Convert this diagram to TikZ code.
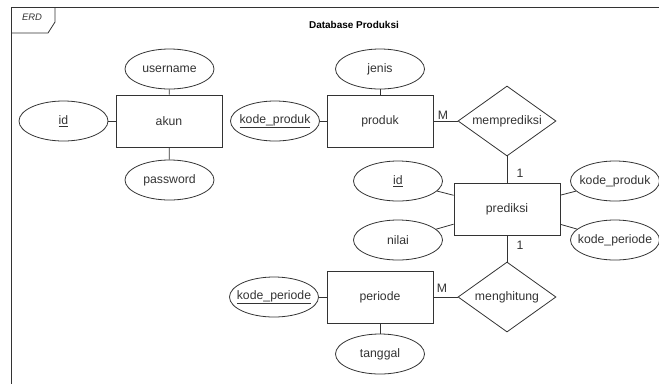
\documentclass[tikz,border=0pt]{standalone}
\usepackage{fontspec}
\setmainfont{Liberation Sans}
\usetikzlibrary{shapes.geometric}
\definecolor{ln}{HTML}{333333}
\newcommand\attxt[1]{\makebox[0pt][c]{#1}}
\tikzset{
  base/.style={draw=ln, line width=0.8bp, text=ln, font=\fontsize{12.3}{14}\selectfont, inner sep=0pt},
  ent/.style={base, rectangle, minimum width=106bp, minimum height=52bp},
  attr/.style={base, ellipse, minimum width=89bp, minimum height=40bp},
  rel/.style={base, diamond, minimum width=98bp, minimum height=70bp},
  conn/.style={draw=ln, line width=0.8bp},
  card/.style={text=ln, font=\fontsize{12.3}{14}\selectfont, inner sep=0pt}
}
\begin{document}
\begin{tikzpicture}[x=1bp, y=-1bp]
\useasboundingbox (0,0) rectangle (659,383);
\clip (0,0) rectangle (659,383);
% frame
\draw[ln, line width=0.8bp] (11,7) rectangle (680,400);
\draw[ln, line width=0.8bp] (11,33) -- (48,33) -- (55,22) -- (55,7);
\node[text=ln, font=\fontsize{9.5}{10}\selectfont\itshape, inner sep=0pt] (erd) at (32,17) {ERD};
\node[text=black, font=\fontsize{10}{12}\selectfont\bfseries, inner sep=0pt] (title) at (354,25) {Database Produksi};
% entities
\node[ent] (akun) at (169,121) {akun};
\node[ent] (produk) at (380,121) {produk};
\node[ent] (prediksi) at (507,209) {prediksi};
\node[ent] (periode) at (380,297) {periode};
% relationships
\node[rel] (mempred) at (507,121) {\attxt{memprediksi}};
\node[rel] (menghit) at (507,297) {\attxt{menghitung}};
% attributes
\node[attr] (username) at (169.5,69) {\attxt{username}};
\node[attr] (password) at (169.5,180) {\attxt{password}};
\node[attr] (akunid) at (63.5,121) {\attxt{\underline{id}}};
\node[attr] (kpr) at (275,121) {\attxt{\underline{kode\_produk}}};
\node[attr] (jenis) at (380,69) {\attxt{jenis}};
\node[attr] (predid) at (398,181) {\attxt{\underline{id}}};
\node[attr] (nilai) at (398,240) {\attxt{nilai}};
\node[attr] (pkpr) at (615,181) {\attxt{kode\_produk}};
\node[attr] (pkpe) at (615,240) {\attxt{kode\_periode}};
\node[attr] (kpe) at (274,297) {\attxt{\underline{kode\_periode}}};
\node[attr] (tanggal) at (380,354) {\attxt{tanggal}};
% connectors
\draw[conn] (username) -- (akun);
\draw[conn] (password) -- (akun);
\draw[conn] (akunid) -- (akun);
\draw[conn] (kpr) -- (produk);
\draw[conn] (jenis) -- (produk);
\draw[conn] (produk) -- (mempred);
\draw[conn] (mempred) -- (prediksi);
\draw[conn] (predid) -- (prediksi);
\draw[conn] (nilai) -- (prediksi);
\draw[conn] (pkpr) -- (prediksi);
\draw[conn] (pkpe) -- (prediksi);
\draw[conn] (prediksi) -- (menghit);
\draw[conn] (periode) -- (menghit);
\draw[conn] (kpe) -- (periode);
\draw[conn] (tanggal) -- (periode);
% cardinalities
\node[card] (c1) at (443,115) {M};
\node[card] (c2) at (520,173) {1};
\node[card] (c3) at (520,245) {1};
\node[card] (c4) at (442,288) {M};
\end{tikzpicture}
\end{document}
